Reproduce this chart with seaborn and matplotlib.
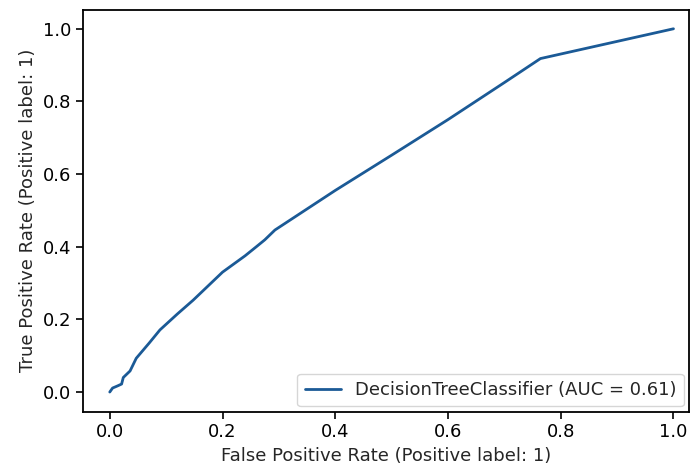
import pandas as pd
import matplotlib
matplotlib.use("Agg")
import matplotlib.pyplot as plt
import seaborn as sns

# ROC curve points
fpr = [0.0, 0.005, 0.014, 0.021, 0.024, 0.036, 0.047, 0.07, 0.089, 0.12, 0.148,
       0.2, 0.24, 0.26, 0.275, 0.293, 0.4, 0.5, 0.6, 0.7, 0.764, 1.0]
tpr = [0.0, 0.011, 0.017, 0.022, 0.040, 0.058, 0.093, 0.135, 0.171, 0.215, 0.253,
       0.33, 0.375, 0.40, 0.419, 0.446, 0.555, 0.652, 0.75, 0.852, 0.918, 1.0]
label = "DecisionTreeClassifier (AUC = 0.61)"

df = pd.DataFrame({"fpr": fpr, "tpr": tpr})

sns.set_style("ticks")
plt.rcParams["font.family"] = ["DejaVu Sans"]
plt.rcParams["axes.edgecolor"] = "black"
plt.rcParams["xtick.color"] = "black"
plt.rcParams["ytick.color"] = "black"

fig = plt.figure(figsize=(6.91, 4.71), dpi=100)
ax = fig.add_axes([0.1205, 0.126, 0.877, 0.853])

sns.lineplot(data=df, x="fpr", y="tpr", sort=False, ax=ax, color="#1b5a96",
             linewidth=2, label=label)

ax.set_xlim(-0.047, 1.028)
ax.set_ylim(-0.054, 1.052)
ax.set_xticks([0.0, 0.2, 0.4, 0.6, 0.8, 1.0])
ax.set_yticks([0.0, 0.2, 0.4, 0.6, 0.8, 1.0])
ax.tick_params(labelsize=13, length=5, width=1.2)
for s in ax.spines.values():
    s.set_linewidth(1.3)
ax.set_xlabel("False Positive Rate (Positive label: 1)", fontsize=13)
ax.set_ylabel("True Positive Rate (Positive label: 1)", fontsize=13)
ax.legend(loc="lower right", fontsize=13, borderaxespad=0.3)

fig.savefig("out.png", dpi=100)
